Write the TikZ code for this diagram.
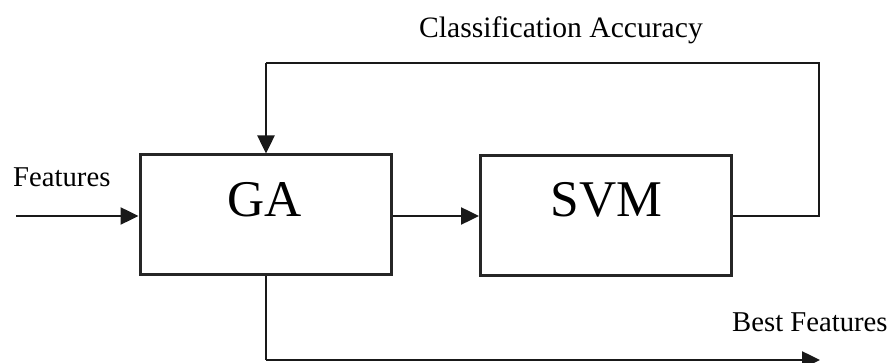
\documentclass[tikz,border=0pt]{standalone}
\usepackage{fontspec}
\setmainfont{Liberation Serif}
\usetikzlibrary{arrows.meta}
\begin{document}
\begin{tikzpicture}[x=1pt,y=-1pt,
  blockbox/.style={draw=black!85,line width=3pt,minimum width=251pt,minimum height=120pt,inner sep=0pt},
  conn/.style={line width=2.5pt,draw=black!90},
  arr/.style={conn,-{Triangle[length=18pt,width=17pt]}},
  lbl/.style={font=\fontsize{28.7}{30}\selectfont,inner sep=0pt,anchor=base west},
  big/.style={font=\fontsize{51.5}{54}\selectfont,inner sep=0pt,anchor=base}]
\useasboundingbox (0,0) rectangle (892,363);
\fill[white] (0,0) rectangle (892,363);
\node[blockbox] (ga) at (265.5,215) {};
\node[blockbox] (svm) at (606,215.5) {};
\node[big] (gat) at (265,217) {GA};
\node[big] (svmt) at (606.5,217) {SVM};
\node[lbl,font=\fontsize{29.6}{31}\selectfont] (acc) at (419,38) {Classification Accuracy};
\node[lbl] (feat) at (13,187) {Features};
\node[lbl] (best) at (732,332) {Best Features};
\coordinate (in) at (16,216);
\coordinate (fr) at (819,216);
\coordinate (ft) at (819,63);
\coordinate (fl) at (266,63);
\coordinate (bl) at (266,360);
\coordinate (out) at (820,360);
\draw[arr] (in) -- (in -| ga.west);
\draw[arr] (ga.east |- 0,216) -- (svm.west |- 0,216);
\draw[conn] (svm.east |- 0,216) -- (fr) -- (ft) -- (fl);
\draw[arr] (fl) -- (fl |- ga.north);
\draw[conn] (ga.south -| bl) -- (bl);
\draw[arr] (bl) -- (out);
\end{tikzpicture}
\end{document}
